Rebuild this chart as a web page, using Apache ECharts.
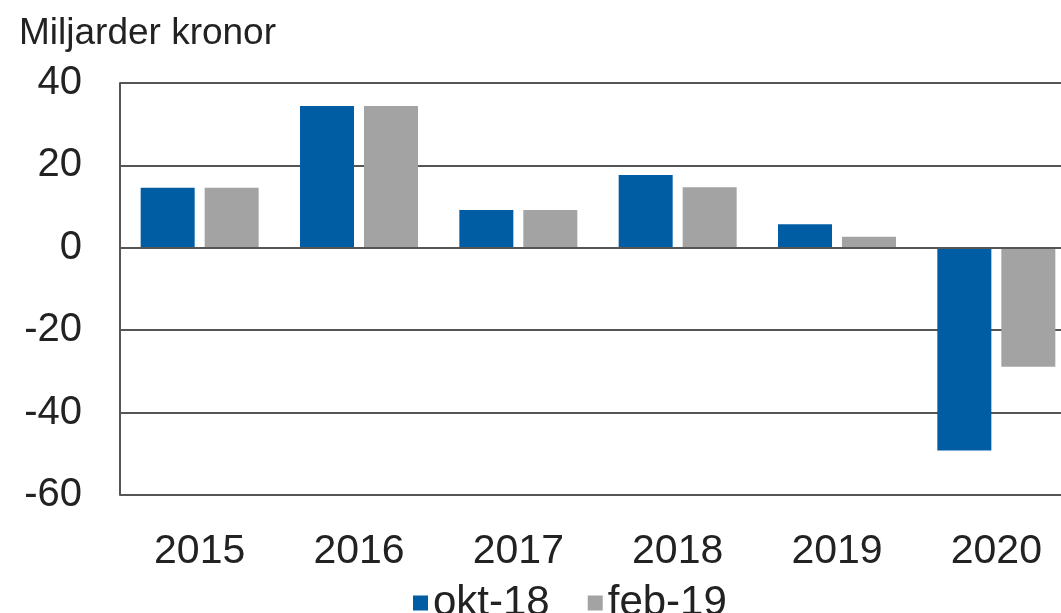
<!DOCTYPE html>
<html>
<head>
	<meta charset="UTF-8">
	<title>Miljarder kronor</title>
	<script src="https://cdn.jsdelivr.net/npm/echarts@6/dist/echarts.min.js"></script>
	<style>
		html, body { margin: 0; padding: 0; background: #fff; overflow: hidden; }
		/* 图表右边被裁掉，所以画布比窗口宽一点 */
		#chart { width: 1076px; height: 613px; }
	</style>
</head>
<body>
	<div id="chart"></div>
	<script type="text/javascript">
		// 年份
		var years = ['2015', '2016', '2017', '2018', '2019', '2020'];
		// 两次预测
		var okt18 = [14.6, 34.4, 9.2, 17.7, 5.7, -49.2];
		var feb19 = [14.6, 34.4, 9.2, 14.7, 2.7, -28.9];
		// y轴刻度
		var yMin = -60, yMax = 40, yStep = 20;

		var blue = '#005DA4';
		var grey = '#A3A3A3';
		var textColor = '#222';
		var lineColor = '#555';
		var font = 'Liberation Sans, Arial, sans-serif';

		var myChart = echarts.init(document.getElementById('chart'));

		var option = {
			animation: false,
			title: {
				text: 'Miljarder kronor',
				left: 14,
				top: 10,
				textStyle: { fontSize: 37, fontWeight: 'normal', color: textColor, fontFamily: font }
			},
			legend: {
				top: 577,
				left: 408,
				icon: 'rect',
				itemWidth: 15,
				itemHeight: 15,
				itemGap: 38,
				itemStyle: { borderWidth: 0 },
				textStyle: { fontSize: 42, color: textColor, fontFamily: font },
				data: ['okt-18', 'feb-19']
			},
			grid: { left: 120, right: 0, top: 83, bottom: 118 },
			xAxis: [{
				// 零线，画在柱子上面
				type: 'category',
				data: years,
				z: 10,
				axisLine: { onZero: true, lineStyle: { color: lineColor, width: 2 } },
				axisTick: { show: false },
				axisLabel: { show: false }
			}, {
				type: 'category',
				data: years,
				position: 'bottom',
				axisLine: { show: false, onZero: false },
				axisTick: { show: false },
				axisLabel: { margin: 36, fontSize: 41, color: textColor, fontFamily: font }
			}],
			yAxis: {
				type: 'value',
				min: yMin,
				max: yMax,
				interval: yStep,
				axisLine: { show: true, lineStyle: { color: lineColor, width: 2 } },
				axisTick: { show: false },
				splitLine: { lineStyle: { color: lineColor, width: 2 } },
				axisLabel: { margin: 38, fontSize: 40, color: textColor, fontFamily: font }
			},
			series: [{
				name: 'okt-18',
				type: 'bar',
				barWidth: 54,
				barGap: '18.5%',
				itemStyle: { color: blue },
				data: okt18
			}, {
				name: 'feb-19',
				type: 'bar',
				barWidth: 54,
				barGap: '18.5%',
				itemStyle: { color: grey },
				data: feb19
			}]
		};

		myChart.setOption(option);
	</script>
</body>
</html>
